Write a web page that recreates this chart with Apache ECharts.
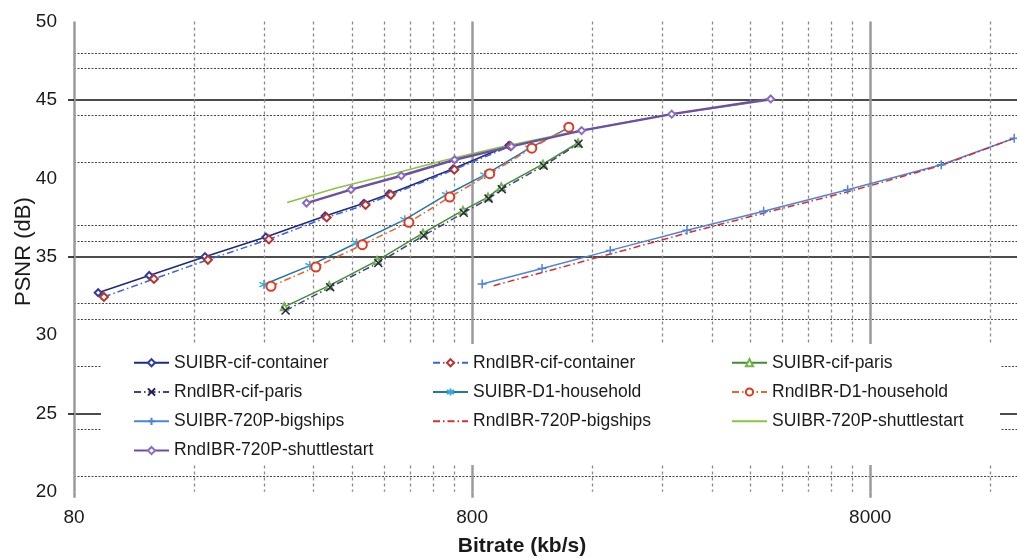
<!DOCTYPE html>
<html><head><meta charset="utf-8">
<script src="https://cdn.jsdelivr.net/npm/echarts@6/dist/echarts.min.js"></script>
<style>html,body{margin:0;padding:0;background:#fff}#c{width:1017px;height:559px}</style>
</head><body><div id="c"></div>
<script>
// ---- data (bitrate kb/s, PSNR dB) ----
const suCifContainer  = [[92,32.7],[123.6,33.8],[170.6,35.0],[242.7,36.25],[341.9,37.6],[428,38.4],[494.8,39.0],[717,40.6],[990,42.1]];
const rndCifContainer = [[95.1,32.43],[127,33.58],[173.6,34.8],[247,36.1],[345,37.5],[432,38.3],[500,38.95],[722,40.55],[1000,42.05]];
const suCifParis      = [[270,31.8],[350,33.15],[462,34.75],[602,36.5],[759,37.95],[877,38.8],[947,39.45],[1205,40.9],[1476,42.25]];
const rndCifParis     = [[272,31.56],[352,33.05],[465,34.6],[605,36.35],[762,37.8],[880,38.7],[950,39.3],[1210,40.8],[1480,42.2]];
const suD1Household   = [[240,33.22],[313,34.43],[410,35.87],[542,37.36],[690,38.95],[861,40.22],[1116,41.92],[1393,43.2]];
const rndD1Household  = [[250,33.11],[324,34.34],[424,35.76],[555,37.19],[703,38.8],[886,40.29],[1130,41.92],[1400,43.26]];
const su720Bigships   = [[848,33.26],[1199,34.24],[1779,35.4],[2772,36.68],[4319,37.89],[7021,39.27],[12065,40.86],[18400,42.55]];
const rnd720Bigships  = [[906,33.15],[1275,34.17],[1861,35.3],[2869,36.61],[4432,37.85],[7240,39.22],[12150,40.84],[18400,42.55]];
const su720Shuttle    = [[274.5,38.46],[365,39.38],[488,40.18],[690,41.18],[957,42.03],[1496,43.05],[2538,44.1],[4600,45.03]];
const rnd720Shuttle   = [[307,38.42],[397,39.27],[531,40.16],[723,41.18],[1004,42.03],[1507,43.04],[2538,44.09],[4500,45.06]];

const seriesNames = ['SUIBR-cif-container','RndIBR-cif-container','SUIBR-cif-paris','RndIBR-cif-paris',
  'SUIBR-D1-household','RndIBR-D1-household','SUIBR-720P-bigships','RndIBR-720P-bigships',
  'SUIBR-720P-shuttlestart','RndIBR-720P-shuttlestart'];
const legendCol1 = ['SUIBR-cif-container','RndIBR-cif-paris','SUIBR-720P-bigships','RndIBR-720P-shuttlestart'];
const legendCol2 = ['RndIBR-cif-container','SUIBR-D1-household','RndIBR-720P-bigships'];
const legendCol3 = ['SUIBR-cif-paris','RndIBR-D1-household','SUIBR-720P-shuttlestart'];

const xLabelTicks = [80, 800, 8000];
const xMinorGrid  = [160,240,320,400,480,560,640,720,1600,2400,3200,4000,4800,5600,6400,7200,16000];
const yMajorGrid  = [25, 35, 45];
const yMinorGrid  = [21, 24, 28, 31, 32, 36, 37, 41, 44, 47, 48];
const xMin = 80, xMax = 18700, yMin = 20, yMax = 50;

// ---- styling ----
const FONT = '"Liberation Sans", Arial, sans-serif';
const DASHDOT = [7, 3, 1.5, 3];
const SYM_X = 'path://M0,0L10,10M10,0L0,10';
const SYM_PLUS = 'path://M5,0L5,10M0,5L10,5';
const SYM_AST = 'path://M5,0L5,10M0.7,2.5L9.3,7.5M0.7,7.5L9.3,2.5';

const styles = {
  'SUIBR-cif-container':     {line:'#1F2A80', type:'solid', w:1.6, sym:'emptyDiamond', size:7, mc:'#2B3C9E'},
  'RndIBR-cif-container':    {line:'#3D62D4', type:DASHDOT, w:1.5, sym:'emptyDiamond', size:8, mc:'#B8332F'},
  'SUIBR-cif-paris':         {line:'#3F8F2E', type:'solid', w:1.5, sym:'emptyTriangle', size:7, mc:'#74B548'},
  'RndIBR-cif-paris':        {line:'#4A3F8C', type:DASHDOT, w:1.5, sym:SYM_X, size:8, mc:'#2A2050'},
  'SUIBR-D1-household':      {line:'#2576A8', type:'solid', w:1.5, sym:SYM_AST, size:9, mc:'#3AAAD8'},
  'RndIBR-D1-household':     {line:'#F0602A', type:DASHDOT, w:1.5, sym:'emptyCircle', size:9, mc:'#E03A22'},
  'SUIBR-720P-bigships':     {line:'#4C86DA', type:'solid', w:1.5, sym:SYM_PLUS, size:9, mc:'#4C86DA'},
  'RndIBR-720P-bigships':    {line:'#D43030', type:DASHDOT, w:1.5, sym:'none', size:0, mc:'#D43030'},
  'SUIBR-720P-shuttlestart': {line:'#8CC43F', type:'solid', w:1.6, sym:'none', size:0, mc:'#8CC43F'},
  'RndIBR-720P-shuttlestart':{line:'#6E4FA8', type:'solid', w:2.4, sym:'emptyDiamond', size:7, mc:'#8A6CC4'}
};
const dataByName = {
  'SUIBR-cif-container': suCifContainer, 'RndIBR-cif-container': rndCifContainer,
  'SUIBR-cif-paris': suCifParis, 'RndIBR-cif-paris': rndCifParis,
  'SUIBR-D1-household': suD1Household, 'RndIBR-D1-household': rndD1Household,
  'SUIBR-720P-bigships': su720Bigships, 'RndIBR-720P-bigships': rnd720Bigships,
  'SUIBR-720P-shuttlestart': su720Shuttle, 'RndIBR-720P-shuttlestart': rnd720Shuttle
};

const series = seriesNames.map(function (n) {
  const s = styles[n];
  return {
    name: n, type: 'line', xAxisIndex: 0, yAxisIndex: 0,
    data: dataByName[n],
    showSymbol: s.sym !== 'none',
    symbol: s.sym,
    symbolSize: s.size,
    lineStyle: {color: s.line, width: s.w, type: s.type},
    itemStyle: {color: s.mc, borderColor: s.mc, borderWidth: 1.5},
    emphasis: {disabled: true},
    animation: false,
    z: 3
  };
});

function legendCol(names, left) {
  return {
    data: names.map(function (n) {
      return styles[n].sym === 'none'
        ? {name: n, itemStyle: {color: 'rgba(0,0,0,0)', borderColor: 'rgba(0,0,0,0)', opacity: 0}}
        : {name: n};
    }),
    orient: 'vertical', left: left, top: 353.7, padding: 0,
    itemWidth: 35, itemHeight: 9, itemGap: 11.3,
    textStyle: {fontFamily: FONT, fontSize: 17.5, color: '#1a1a1a', lineHeight: 17},
    z: 10, selectedMode: false
  };
}

const option = {
  backgroundColor: '#fff',
  animation: false,
  grid: {left: 74, right: 0, top: 21.5, bottom: 67.2, containLabel: false, outerBoundsMode: 'none'},
  graphic: [{type: 'rect', z: 5, shape: {x: 101, y: 344, width: 899, height: 121}, style: {fill: '#fff'}}],
  legend: [legendCol(legendCol1, 133), legendCol(legendCol2, 432), legendCol(legendCol3, 731)],
  xAxis: [
    {type: 'log', logBase: 10, min: xMin, max: xMax, position: 'bottom',
     name: 'Bitrate (kb/s)', nameLocation: 'middle', nameGap: 44, nameMoveOverlap: false,
     nameTextStyle: {fontFamily: FONT, fontSize: 21, fontWeight: 'bold', color: '#1a1a1a', padding: [0, 47, 0, 0]},
     axisLine: {show: false},
     axisTick: {show: true, customValues: xLabelTicks, length: 6, lineStyle: {color: '#9a9a9a', width: 2.5}},
     axisLabel: {customValues: xLabelTicks, fontFamily: FONT, fontSize: 19, color: '#1a1a1a', margin: 16,
                 formatter: function (v) { return String(Math.round(v)); }},
     splitLine: {show: true, lineStyle: {color: '#9a9a9a', width: 2.5, type: 'solid'}},
     minorTick: {show: false}, minorSplitLine: {show: false}},
    {type: 'log', logBase: 10, min: xMin, max: xMax, position: 'bottom',
     axisLine: {show: false},
     axisTick: {show: false, customValues: xMinorGrid},
     axisLabel: {show: false},
     splitLine: {show: true, lineStyle: {color: '#8a8a8a', width: 1.3, type: [3, 3]}}}
  ],
  yAxis: [
    {type: 'value', min: yMin, max: yMax, interval: 5, position: 'left',
     name: 'PSNR (dB)', nameLocation: 'middle', nameGap: 39.5, nameMoveOverlap: false,
     nameTextStyle: {fontFamily: FONT, fontSize: 22, color: '#1a1a1a', padding: [0, 0, 0, 10]},
     axisLine: {show: false},
     axisTick: {show: true, customValues: yMajorGrid, length: 6, lineStyle: {color: '#111', width: 1.6}},
     axisLabel: {fontFamily: FONT, fontSize: 19, color: '#1a1a1a', margin: 17},
     splitLine: {show: true, lineStyle: {color: '#111', width: 1.6, type: 'solid'}}},
    {type: 'value', min: yMin, max: yMax, position: 'left',
     axisLine: {show: false},
     axisTick: {show: false, customValues: yMinorGrid},
     axisLabel: {show: false},
     splitLine: {show: true, lineStyle: {color: '#444', width: 1.2, type: [2, 1.5]}}}
  ],
  series: series
};

const chart = echarts.init(document.getElementById('c'), null, {renderer: 'canvas'});
chart.setOption(option);
</script>
</body></html>
